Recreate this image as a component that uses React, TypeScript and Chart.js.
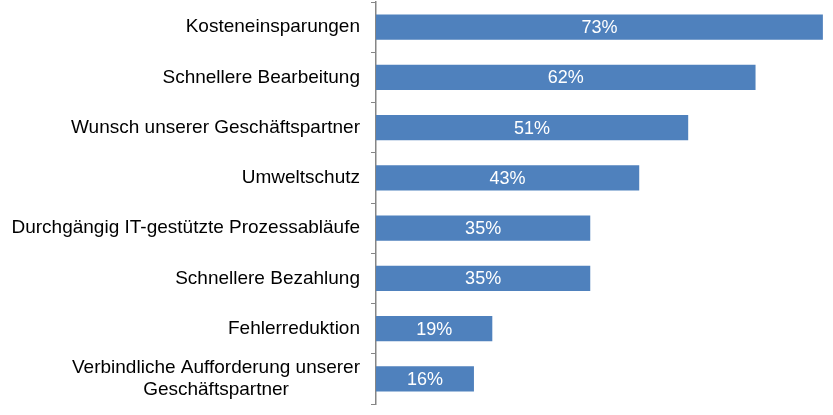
import React, { useEffect, useRef } from "react";
import { Chart, registerables } from "chart.js";

Chart.register(...registerables);

const categories: string[][] = [
  ["Kosteneinsparungen"],
  ["Schnellere Bearbeitung"],
  ["Wunsch unserer Geschäftspartner"],
  ["Umweltschutz"],
  ["Durchgängig IT-gestützte Prozessabläufe"],
  ["Schnellere Bezahlung"],
  ["Fehlerreduktion"],
  ["Verbindliche Aufforderung unserer", "Geschäftspartner"],
];
const values: number[] = [73, 62, 51, 43, 35, 35, 19, 16];
const valueLabels: string[] = ["73%", "62%", "51%", "43%", "35%", "35%", "19%", "16%"];

const FONT = "'Liberation Sans', Arial, sans-serif";

const labelPlugin = {
  id: "customLabels",
  afterDraw(chart: any) {
    const ctx = chart.ctx;
    const yScale = chart.scales.y;
    ctx.save();
    ctx.font = `19px ${FONT}`;
    ctx.fillStyle = "#000000";
    ctx.textBaseline = "middle";
    ctx.textAlign = "center";
    const rightX = yScale.right - 16;
    const lh = 21.5;
    categories.forEach((lines, i) => {
      const cy = yScale.getPixelForValue(i);
      const maxW = Math.max(...lines.map((l) => ctx.measureText(l).width));
      const cx = rightX - maxW / 2;
      const startY = cy - ((lines.length - 1) * lh) / 2;
      lines.forEach((l, j) => {
        ctx.fillText(l, cx, startY + j * lh);
      });
    });
    ctx.font = `18px ${FONT}`;
    ctx.fillStyle = "#ffffff";
    const meta = chart.getDatasetMeta(0);
    meta.data.forEach((bar: any, i: number) => {
      const p = bar.getProps(["x", "y", "base"], true);
      ctx.fillText(valueLabels[i], (p.x + p.base) / 2, p.y + 1);
    });
    ctx.restore();
  },
};

export default function App() {
  const ref = useRef<HTMLCanvasElement | null>(null);
  useEffect(() => {
    if (!ref.current) return;
    const chart = new Chart(ref.current, {
      type: "bar",
      data: {
        labels: categories.map((c) => c.join(" ")),
        datasets: [
          {
            data: values,
            backgroundColor: "#4F81BD",
            borderWidth: 0,
            categoryPercentage: 0.5,
            barPercentage: 1,
          },
        ],
      },
      options: {
        indexAxis: "y",
        animation: false,
        responsive: false,
        maintainAspectRatio: false,
        layout: { padding: { top: 2, bottom: 11, right: 4, left: 0 } },
        plugins: { legend: { display: false }, tooltip: { enabled: false } },
        scales: {
          x: { display: false, min: 0, max: 74 },
          y: {
            offset: true,
            grid: {
              display: true,
              drawOnChartArea: false,
              drawTicks: true,
              tickLength: 5,
              color: "#868686",
              offset: true,
            },
            border: { display: true, color: "#868686", width: 1.5 },
            ticks: { display: false },
            afterFit: (scale: any) => {
              scale.width = 376;
              scale.paddingTop = 0;
              scale.paddingBottom = 0;
            },
          },
        },
      },
      plugins: [labelPlugin],
    });
    return () => chart.destroy();
  }, []);
  return (
    <div style={{ position: "fixed", left: 0, top: 0, width: 833, height: 415, background: "#fff" }}>
      <canvas ref={ref} width={833} height={415} />
    </div>
  );
}
